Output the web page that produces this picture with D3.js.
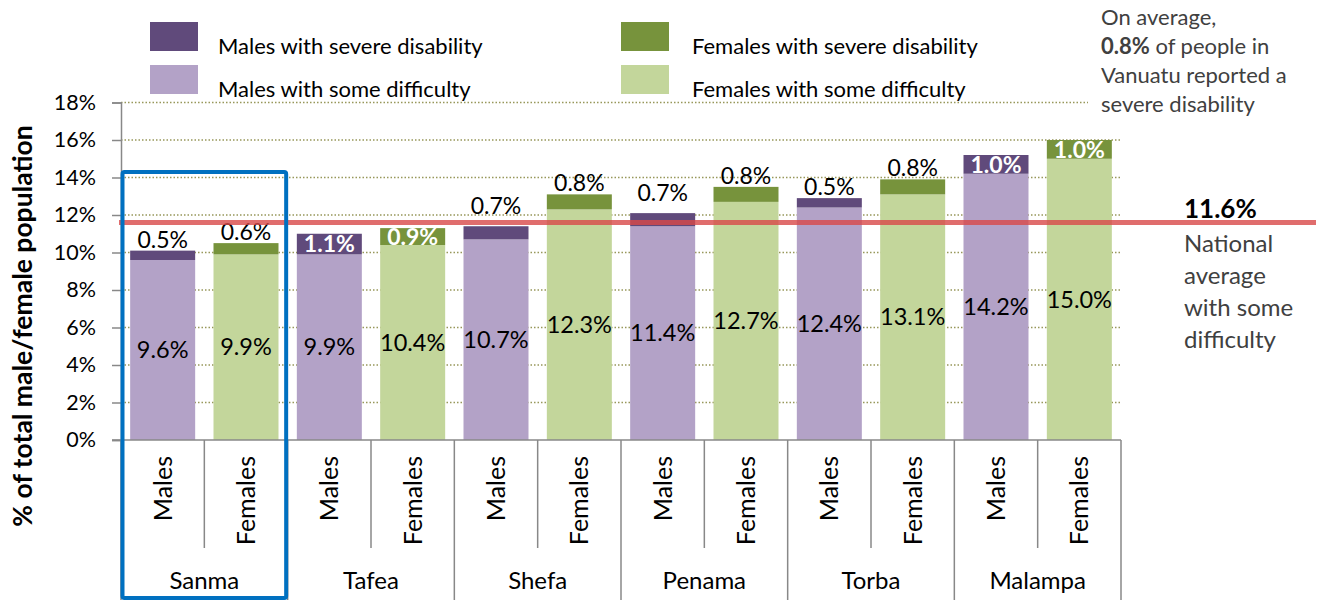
<!DOCTYPE html>
<html>
<head>
<meta charset="utf-8">
<script src="https://cdn.jsdelivr.net/npm/d3@7"></script>
<style>
  body { margin: 0; background: #fff; }
  svg { font-family: Lato, "Open Sans", sans-serif; }
</style>
</head>
<body>
<div id="chart"></div>
<script>
var width = 1319,
    height = 600;

// data
var regions = ["Sanma", "Tafea", "Shefa", "Penama", "Torba", "Malampa"];
var sexes = ["Males", "Females"];
var someMales     = [9.6, 9.9, 10.7, 11.4, 12.4, 14.2];
var severeMales   = [0.5, 1.1, 0.7, 0.7, 0.5, 1.0];
var someFemales   = [9.9, 10.4, 12.3, 12.7, 13.1, 15.0];
var severeFemales = [0.6, 0.9, 0.8, 0.8, 0.8, 1.0];
var yTicks = [0, 2, 4, 6, 8, 10, 12, 14, 16, 18];
var nationalAvg = 11.6;
var legendItems = ["Males with severe disability", "Males with some difficulty",
                   "Females with severe disability", "Females with some difficulty"];

var colors = {
  Males:   { some: "#b3a2c7", severe: "#604a7b" },
  Females: { some: "#c3d69b", severe: "#77933c" }
};

// one row per bar
var bars = [];
regions.forEach(function(r, i){
  bars.push({ id: r + "-M", region: r, sex: sexes[0], some: someMales[i], severe: severeMales[i] });
  bars.push({ id: r + "-F", region: r, sex: sexes[1], some: someFemales[i], severe: severeFemales[i] });
});

var svg = d3.select("#chart")
  .append("svg")
  .attr("width", width)
  .attr("height", height);

var x = d3.scaleBand()
  .domain(bars.map(function(d){ return d.id }))
  .range([121, 1121])
  .paddingInner(0.22)
  .paddingOuter(0.11);

var y = d3.scaleLinear().domain([0, 18]).range([440, 102.5]);

var step = x.step(),
    x0 = x.range()[0],
    x1 = x.range()[1];

// gridlines
svg.append("g")
  .selectAll("line")
  .data(yTicks.slice(1))
  .enter().append("line")
  .attr("x1", x0).attr("x2", x1)
  .attr("y1", function(d){ return y(d) }).attr("y2", function(d){ return y(d) })
  .attr("stroke", "#97975a")
  .attr("stroke-width", 1.5)
  .attr("stroke-dasharray", "1.5,2");

// y axis
var yAxis = svg.append("g")
  .attr("transform", "translate(" + x0 + ",0)")
  .call(d3.axisLeft(y).tickValues(yTicks).tickSize(9).tickPadding(16)
        .tickFormat(function(d){ return d + "%" }));
yAxis.select(".domain").attr("stroke", "#888").attr("stroke-width", 1.5);
yAxis.selectAll(".tick line").attr("stroke", "#888").attr("stroke-width", 1.5);
yAxis.selectAll(".tick text")
  .attr("font-size", 21.5)
  .attr("fill", "#000")
  .style("font-family", "Lato, sans-serif");

// bars
var g = svg.append("g").selectAll("g")
  .data(bars)
  .enter().append("g");

g.append("rect")
  .attr("x", function(d){ return x(d.id) })
  .attr("width", x.bandwidth())
  .attr("y", function(d){ return y(d.some) })
  .attr("height", function(d){ return y(0) - y(d.some) })
  .attr("fill", function(d){ return colors[d.sex].some });

g.append("rect")
  .attr("x", function(d){ return x(d.id) })
  .attr("width", x.bandwidth())
  .attr("y", function(d){ return y(d.some + d.severe) })
  .attr("height", function(d){ return y(d.some) - y(d.some + d.severe) })
  .attr("fill", function(d){ return colors[d.sex].severe });

// x axis line
svg.append("line")
  .attr("x1", 112).attr("x2", x1)
  .attr("y1", y(0)).attr("y2", y(0))
  .attr("stroke", "#888").attr("stroke-width", 1.5);

// separators under the axis
svg.append("g").selectAll("line")
  .data(d3.range(13))
  .enter().append("line")
  .attr("x1", function(i){ return x0 + i * step })
  .attr("x2", function(i){ return x0 + i * step })
  .attr("y1", y(0))
  .attr("y2", function(i){ return i % 2 === 0 ? 600 : 548 })
  .attr("stroke", "#888").attr("stroke-width", 1.5);

// sex labels (rotated)
svg.append("g").selectAll("text")
  .data(bars)
  .enter().append("text")
  .attr("transform", function(d){
    return "translate(" + (x(d.id) + x.bandwidth() / 2 + 9) + ",456) rotate(-90)";
  })
  .attr("text-anchor", "end")
  .attr("font-size", 25)
  .text(function(d){ return d.sex });

// region labels
svg.append("g").selectAll("text")
  .data(regions)
  .enter().append("text")
  .attr("x", function(r, i){ return x0 + (2 * i + 1) * step })
  .attr("y", 589)
  .attr("text-anchor", "middle")
  .attr("font-size", 24)
  .text(function(r){ return r });

// national average line
var yAvg = y(nationalAvg);
svg.append("line")
  .attr("x1", 119).attr("x2", 1316)
  .attr("y1", yAvg).attr("y2", yAvg)
  .attr("stroke", "#d84848")
  .attr("stroke-opacity", 0.8)
  .attr("stroke-width", 5);

// value labels: some difficulty in the middle of the segment
g.append("text")
  .attr("x", function(d){ return x(d.id) + x.bandwidth() / 2 })
  .attr("y", function(d){ return y(d.some / 2) })
  .attr("dy", "0.35em")
  .attr("text-anchor", "middle")
  .attr("font-size", 23.5)
  .text(function(d){ return d.some.toFixed(1) + "%" });

// severe labels: inside (white bold) when the segment is tall enough, else above
function inside(d){ return d.severe >= 0.9 }
g.append("text")
  .attr("x", function(d){ return x(d.id) + x.bandwidth() / 2 })
  .attr("y", function(d){
    if (inside(d)) return y(d.some + d.severe / 2);
    var top = y(d.some + d.severe);
    // lift the label clear of the national average line
    return (top - yAvg < 16 && top > yAvg - 16) ? top - 12 : top - 3;
  })
  .attr("dy", function(d){ return inside(d) ? "0.36em" : 0 })
  .attr("text-anchor", "middle")
  .attr("font-size", 23)
  .attr("font-weight", function(d){ return inside(d) ? "bold" : "normal" })
  .attr("fill", function(d){ return inside(d) ? "#fff" : "#000" })
  .text(function(d){ return d.severe.toFixed(1) + "%" });

// highlight box round Sanma
svg.append("rect")
  .attr("x", x0 + 1.5)
  .attr("y", y(14.3))
  .attr("width", 2 * step - 3)
  .attr("height", 598 - y(14.3))
  .attr("rx", 2)
  .attr("fill", "none")
  .attr("stroke", "#0070c0")
  .attr("stroke-width", 4);

// legend
var legend = svg.append("g").selectAll("g")
  .data(legendItems)
  .enter().append("g")
  .attr("transform", function(d, i){
    return "translate(" + (i < 2 ? 150 : 621) + "," + (i % 2 === 0 ? 22 : 65) + ")";
  });
legend.append("rect")
  .attr("width", 48).attr("height", 29)
  .attr("fill", function(d, i){
    var c = colors[i < 2 ? "Males" : "Females"];
    return i % 2 === 0 ? c.severe : c.some;
  });
legend.append("text")
  .attr("x", function(d, i){ return i < 2 ? 68 : 71 })
  .attr("y", 32)
  .attr("font-size", 22)
  .text(function(d){ return d });

// y axis title
svg.append("text")
  .attr("transform", "translate(32,326) rotate(-90)")
  .attr("text-anchor", "middle")
  .attr("font-size", 26.5)
  .attr("font-weight", "bold")
  .text("% of total male/female population");

// note top right, white box hides the gridline behind it
svg.append("rect")
  .attr("x", 1088).attr("y", 0)
  .attr("width", 231).attr("height", 122)
  .attr("fill", "#fff");
var note = svg.append("text")
  .attr("x", 1101)
  .attr("font-size", 22)
  .attr("fill", "#404040");
note.append("tspan").attr("x", 1101).attr("y", 25).text("On average,");
var l2 = note.append("tspan").attr("x", 1101).attr("y", 54);
l2.append("tspan").attr("font-weight", "bold").text("0.8%");
l2.append("tspan").text(" of people in");
note.append("tspan").attr("x", 1101).attr("y", 83).text("Vanuatu reported a");
note.append("tspan").attr("x", 1101).attr("y", 112).text("severe disability");

// national average annotation
svg.append("text")
  .attr("x", 1184).attr("y", 218)
  .attr("font-size", 26)
  .attr("font-weight", "bold")
  .text(nationalAvg.toFixed(1) + "%");
var nat = svg.append("text")
  .attr("x", 1184)
  .attr("font-size", 24)
  .attr("fill", "#404040");
["National", "average", "with some", "difficulty"].forEach(function(t, i){
  nat.append("tspan").attr("x", 1184).attr("y", 252 + i * 32).text(t);
});
</script>
</body>
</html>
